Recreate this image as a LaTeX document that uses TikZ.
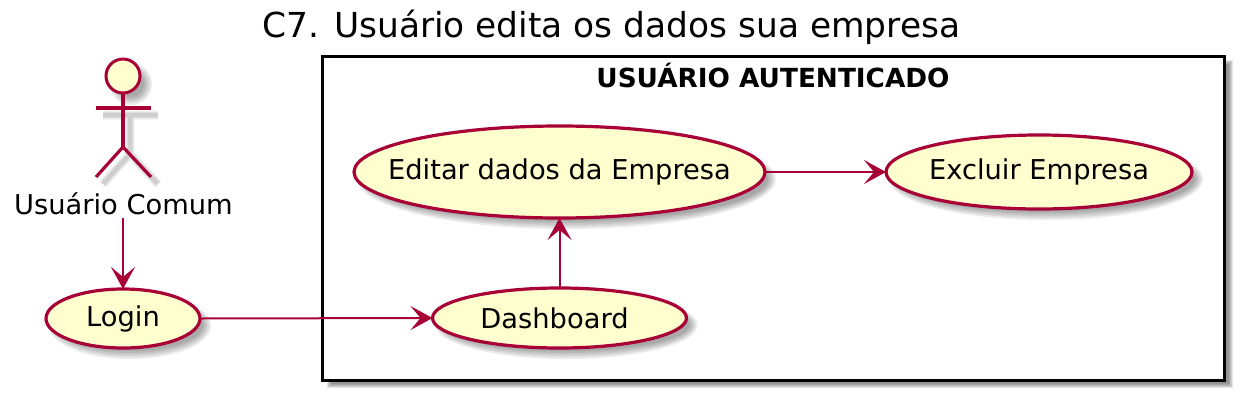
\documentclass[tikz,border=0pt]{standalone}
\usepackage{fontspec}
\setmainfont{DejaVu Sans}
\usetikzlibrary{shapes.geometric,arrows.meta}
\definecolor{umlred}{HTML}{A80036}
\definecolor{umlfill}{HTML}{FEFECE}
\tikzset{
  x=1pt,y=-1pt,
  usecase/.style={ellipse,draw=umlred,fill=umlfill,line width=3.2pt,inner sep=0pt,outer sep=0pt,font=\fontsize{27.3}{30}\selectfont,text=black},
  conn/.style={draw=umlred,line width=2pt,-{Stealth[length=22pt,width=24pt,inset=10pt]}},
  limb/.style={draw=umlred,line width=3.2pt},
  plain label/.style={inner sep=0pt,outer sep=0pt,text=black},
}
\newcommand{\softellipse}[4]{%
  \foreach \d in {-4,-2,0,2,4}{
    \fill[black,opacity=.08] (#1+7,#2+7) ellipse [x radius=#3+\d,y radius=#4+\d];
  }}
\newcommand{\uctext}[1]{\makebox[0pt]{#1}}
\begin{document}
\begin{tikzpicture}
\useasboundingbox (0,0) rectangle (1246,402);
% box shadow
\foreach \d in {-2,-1,0,1,2}{
  \fill[black,opacity=.1] (323+6-\d,56+6-\d) rectangle (1225+6+\d,380+6+\d);
}
% box
\node[draw=black,fill=white,line width=3pt,minimum width=902pt,minimum height=324pt,inner sep=0pt,outer sep=0pt,anchor=north west] (box) at (322.5,56) {};
\node[plain label,font=\bfseries\fontsize{26.3}{30}\selectfont,anchor=base] (boxlabel) at (773,87) {USUÁRIO AUTENTICADO};
\node[plain label,font=\fontsize{34.4}{40}\selectfont,anchor=base] (title) at (611.5,37) {C7. Usuário edita os dados sua empresa};
% shadows
\softellipse{123}{318.5}{77}{29.5}
\softellipse{559.5}{318}{127}{30}
\softellipse{559.5}{172}{205.5}{46}
\softellipse{1039}{172}{153}{37}
\foreach \w/\o in {9/.06,6.5/.07,4/.08}{
  \draw[black,opacity=\o,line width=\w pt] (103,115) -- (158,115) (130,115) -- (130,154) -- (103,184) (130,154) -- (158,184);
}
\softellipse{124}{77}{17}{17}
% use cases
\node[usecase,minimum width=154pt,minimum height=59pt] (login) at (123,318.5) {\uctext{Login}};
\node[usecase,minimum width=254pt,minimum height=60pt] (dash) at (559.5,318) {\hspace{-10pt}\uctext{Dashboard}};
\node[usecase,minimum width=411pt,minimum height=92pt] (edit) at (559.5,172) {\uctext{Editar dados da Empresa}};
\node[usecase,minimum width=306pt,minimum height=74pt] (excl) at (1039,172) {\uctext{Excluir Empresa}};
% actor
\node[circle,draw=umlred,fill=umlfill,line width=3pt,minimum size=34pt,inner sep=0pt,outer sep=0pt] (head) at (123,76) {};
\coordinate (hip) at (123,147);
\coordinate (armL) at (96,108);
\coordinate (armR) at (151,108);
\coordinate (footL) at (96,177);
\coordinate (footR) at (151,177);
\draw[limb] (armL) -- (armR);
\draw[limb] (head) -- (hip);
\draw[limb] (footL) -- (hip) -- (footR);
\node[plain label,font=\fontsize{27.3}{30}\selectfont,anchor=base] (actor) at (123.5,214) {Usuário Comum};
% connectors
\coordinate (actorout) at (123,218);
\draw[conn] (actorout) -- (login);
\draw[conn] (login.east) -- (dash.west);
\draw[conn] (dash.north) -- (edit.south);
\draw[conn] (edit.east) -- (excl.west);
\end{tikzpicture}
\end{document}
